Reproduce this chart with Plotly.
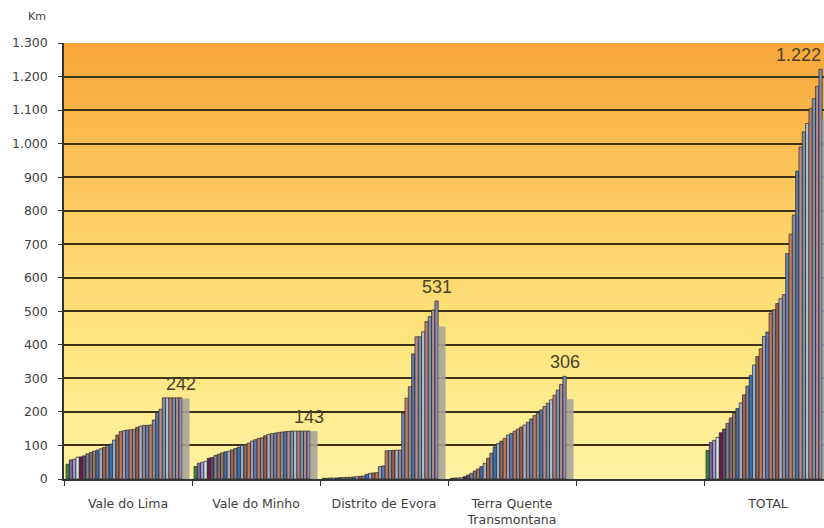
import plotly.graph_objects as go

# ---------------- data ----------------
categories = ["Vale do Lima", "Vale do Minho", "Distrito de Evora",
              "Terra Quente<br>Transmontana", " ", "TOTAL"]

vale_do_lima = [44, 57, 59, 65, 66, 69, 75, 79, 83, 86, 90, 94, 100, 104, 116,
                131, 141, 144, 146, 147, 148, 154, 158, 160, 160, 161, 176, 198,
                208, 242, 242, 242, 242, 242, 242]
vale_do_minho = [37, 47, 50, 52, 62, 64, 70, 74, 78, 81, 83, 87, 91, 95, 101,
                 103, 107, 113, 117, 121, 123, 129, 133, 135, 137, 139, 140, 141,
                 142, 143, 143, 143, 143, 143, 143]
distrito_de_evora = [2, 2, 3, 3, 3, 4, 4, 5, 5, 6, 7, 8, 9, 14, 17, 18, 19, 37,
                     39, 84, 85, 85, 86, 86, 196, 241, 275, 373, 424, 424, 439,
                     469, 484, 504, 531]
terra_quente = [2, 3, 3, 4, 7, 12, 17, 24, 30, 37, 47, 62, 77, 96, 106, 113, 121,
                131, 136, 143, 149, 155, 161, 169, 179, 189, 196, 206, 216, 226,
                236, 250, 265, 282, 306]
total = [85, 109, 115, 124, 138, 149, 166, 182, 196, 210, 227, 251, 277, 309,
         340, 365, 388, 425, 438, 495, 505, 523, 538, 550, 672, 730, 787, 918,
         990, 1035, 1060, 1104, 1134, 1171, 1222]
gray_column = [240, 143, 455, 238, None, 1076]

peak_labels = ["242", "143", "531", "306", None, "1.222"]

y_tick_values = [0, 100, 200, 300, 400, 500, 600, 700, 800, 900, 1000, 1100, 1200, 1300]
y_tick_labels = ["0", "100", "200", "300", "400", "500", "600", "700", "800",
                 "900", "1.000", "1.100", "1.200", "1.300"]

# ---------------- styling ----------------
palette = ["#3c8c3c", "#7a62a8", "#a99ad0", "#dfe6f2", "#6e1848", "#574a7a",
           "#8c7c8c", "#7a6e78", "#9b7a6a", "#4f6f9f", "#9cb0cc", "#b0604a",
           "#7f7f8f", "#3f6fa8", "#8fb0d8", "#8a6a5a", "#c87850", "#a898b0",
           "#5a82b0", "#c07860", "#8a8a96", "#a85a48", "#a8b4c8", "#96869a",
           "#6488b4", "#c88068", "#8c8c98", "#5a78a8", "#b09098", "#8a8a94",
           "#a8c0dc", "#c08070", "#7890b4", "#b08890", "#8a8aa8"]

groups = [vale_do_lima, vale_do_minho, distrito_de_evora, terra_quente, None, total]
n_series = len(total)
start = -0.5 + 2.0 / 128
w = 3.32 / 128

fig = go.Figure()
for i in range(n_series):
    yv = [g[i] if g is not None else None for g in groups]
    fig.add_trace(go.Bar(
        x=categories, y=yv, offset=start + i * w, width=w,
        marker=dict(color=palette[i % len(palette)],
                    line=dict(color="#262626", width=0.7)),
        hoverinfo="skip", showlegend=False))

fig.add_trace(go.Bar(
    x=categories, y=gray_column, offset=0.425, width=0.056,
    marker=dict(color="#aaa598", line=dict(width=0)),
    opacity=0.9, hoverinfo="skip", showlegend=False))

# peak labels
label_x = start + (n_series - 0.5) * w
for gi, lab in enumerate(peak_labels):
    if lab is None:
        continue
    peak = max(groups[gi])
    last = gi == len(categories) - 1
    fig.add_annotation(
        x=gi + label_x, y=peak, xref="x", yref="y", text=lab, showarrow=False,
        xanchor="right" if last else "center", yanchor="bottom",
        xshift=2 if last else 0, yshift=2,
        font=dict(family="Liberation Sans, Arial", size=18, color="#4a4228"))

fig.add_annotation(x=-0.036, y=1.06, xref="paper", yref="paper", text="Km",
                   showarrow=False, xanchor="center", yanchor="middle",
                   font=dict(family="DejaVu Sans", size=11, color="#404040"))

# vertical gradient background (orange top -> pale yellow bottom)
stops = [(0.0, (255, 242, 162)), (0.3, (254, 230, 128)),
         (0.65, (252, 202, 96)), (1.0, (248, 166, 58))]


def grad(t):
    for (t0, c0), (t1, c1) in zip(stops[:-1], stops[1:]):
        if t0 <= t <= t1:
            f = (t - t0) / (t1 - t0)
            return "rgb(%d,%d,%d)" % tuple(round(a + (b - a) * f) for a, b in zip(c0, c1))
    return "rgb(%d,%d,%d)" % stops[-1][1]


ymax = 1300
nstrips = 130
step = ymax / nstrips
for k in range(nstrips):
    fig.add_shape(type="rect", xref="paper", yref="y", x0=0, x1=1,
                  y0=k * step, y1=min((k + 2) * step, ymax),
                  fillcolor=grad((k + 0.5) / nstrips), line=dict(width=0),
                  layer="below")

fig.update_layout(
    width=824, height=528,
    margin=dict(l=64, r=0, t=43, b=49),
    paper_bgcolor="white", plot_bgcolor="#fff2a2",
    barmode="overlay", showlegend=False,
    font=dict(family="DejaVu Sans", color="#404040"),
)
fig.update_xaxes(
    type="category", categoryorder="array", categoryarray=categories,
    range=[-0.5, 5.4375], tickson="boundaries", ticks="outside", ticklen=5,
    tickcolor="#333333", showline=True, linecolor="#333333", linewidth=1.5,
    showgrid=False, tickfont=dict(size=12.5, color="#404040"),
    ticklabelstandoff=12, automargin=False)
fig.update_yaxes(
    range=[0, ymax], tickvals=y_tick_values, ticktext=y_tick_labels,
    ticks="outside", ticklen=4, tickcolor="#333333", showline=True,
    linecolor="#333333", linewidth=1.5, showgrid=True, gridcolor="#3e3118",
    gridwidth=2, zeroline=False, tickfont=dict(size=12.5, color="#404040"),
    ticklabelstandoff=8, automargin=False)

fig.write_html(
    "out.html",
    config={"displayModeBar": False},
    post_script="document.body.style.margin='0';document.body.style.overflow='hidden';")
